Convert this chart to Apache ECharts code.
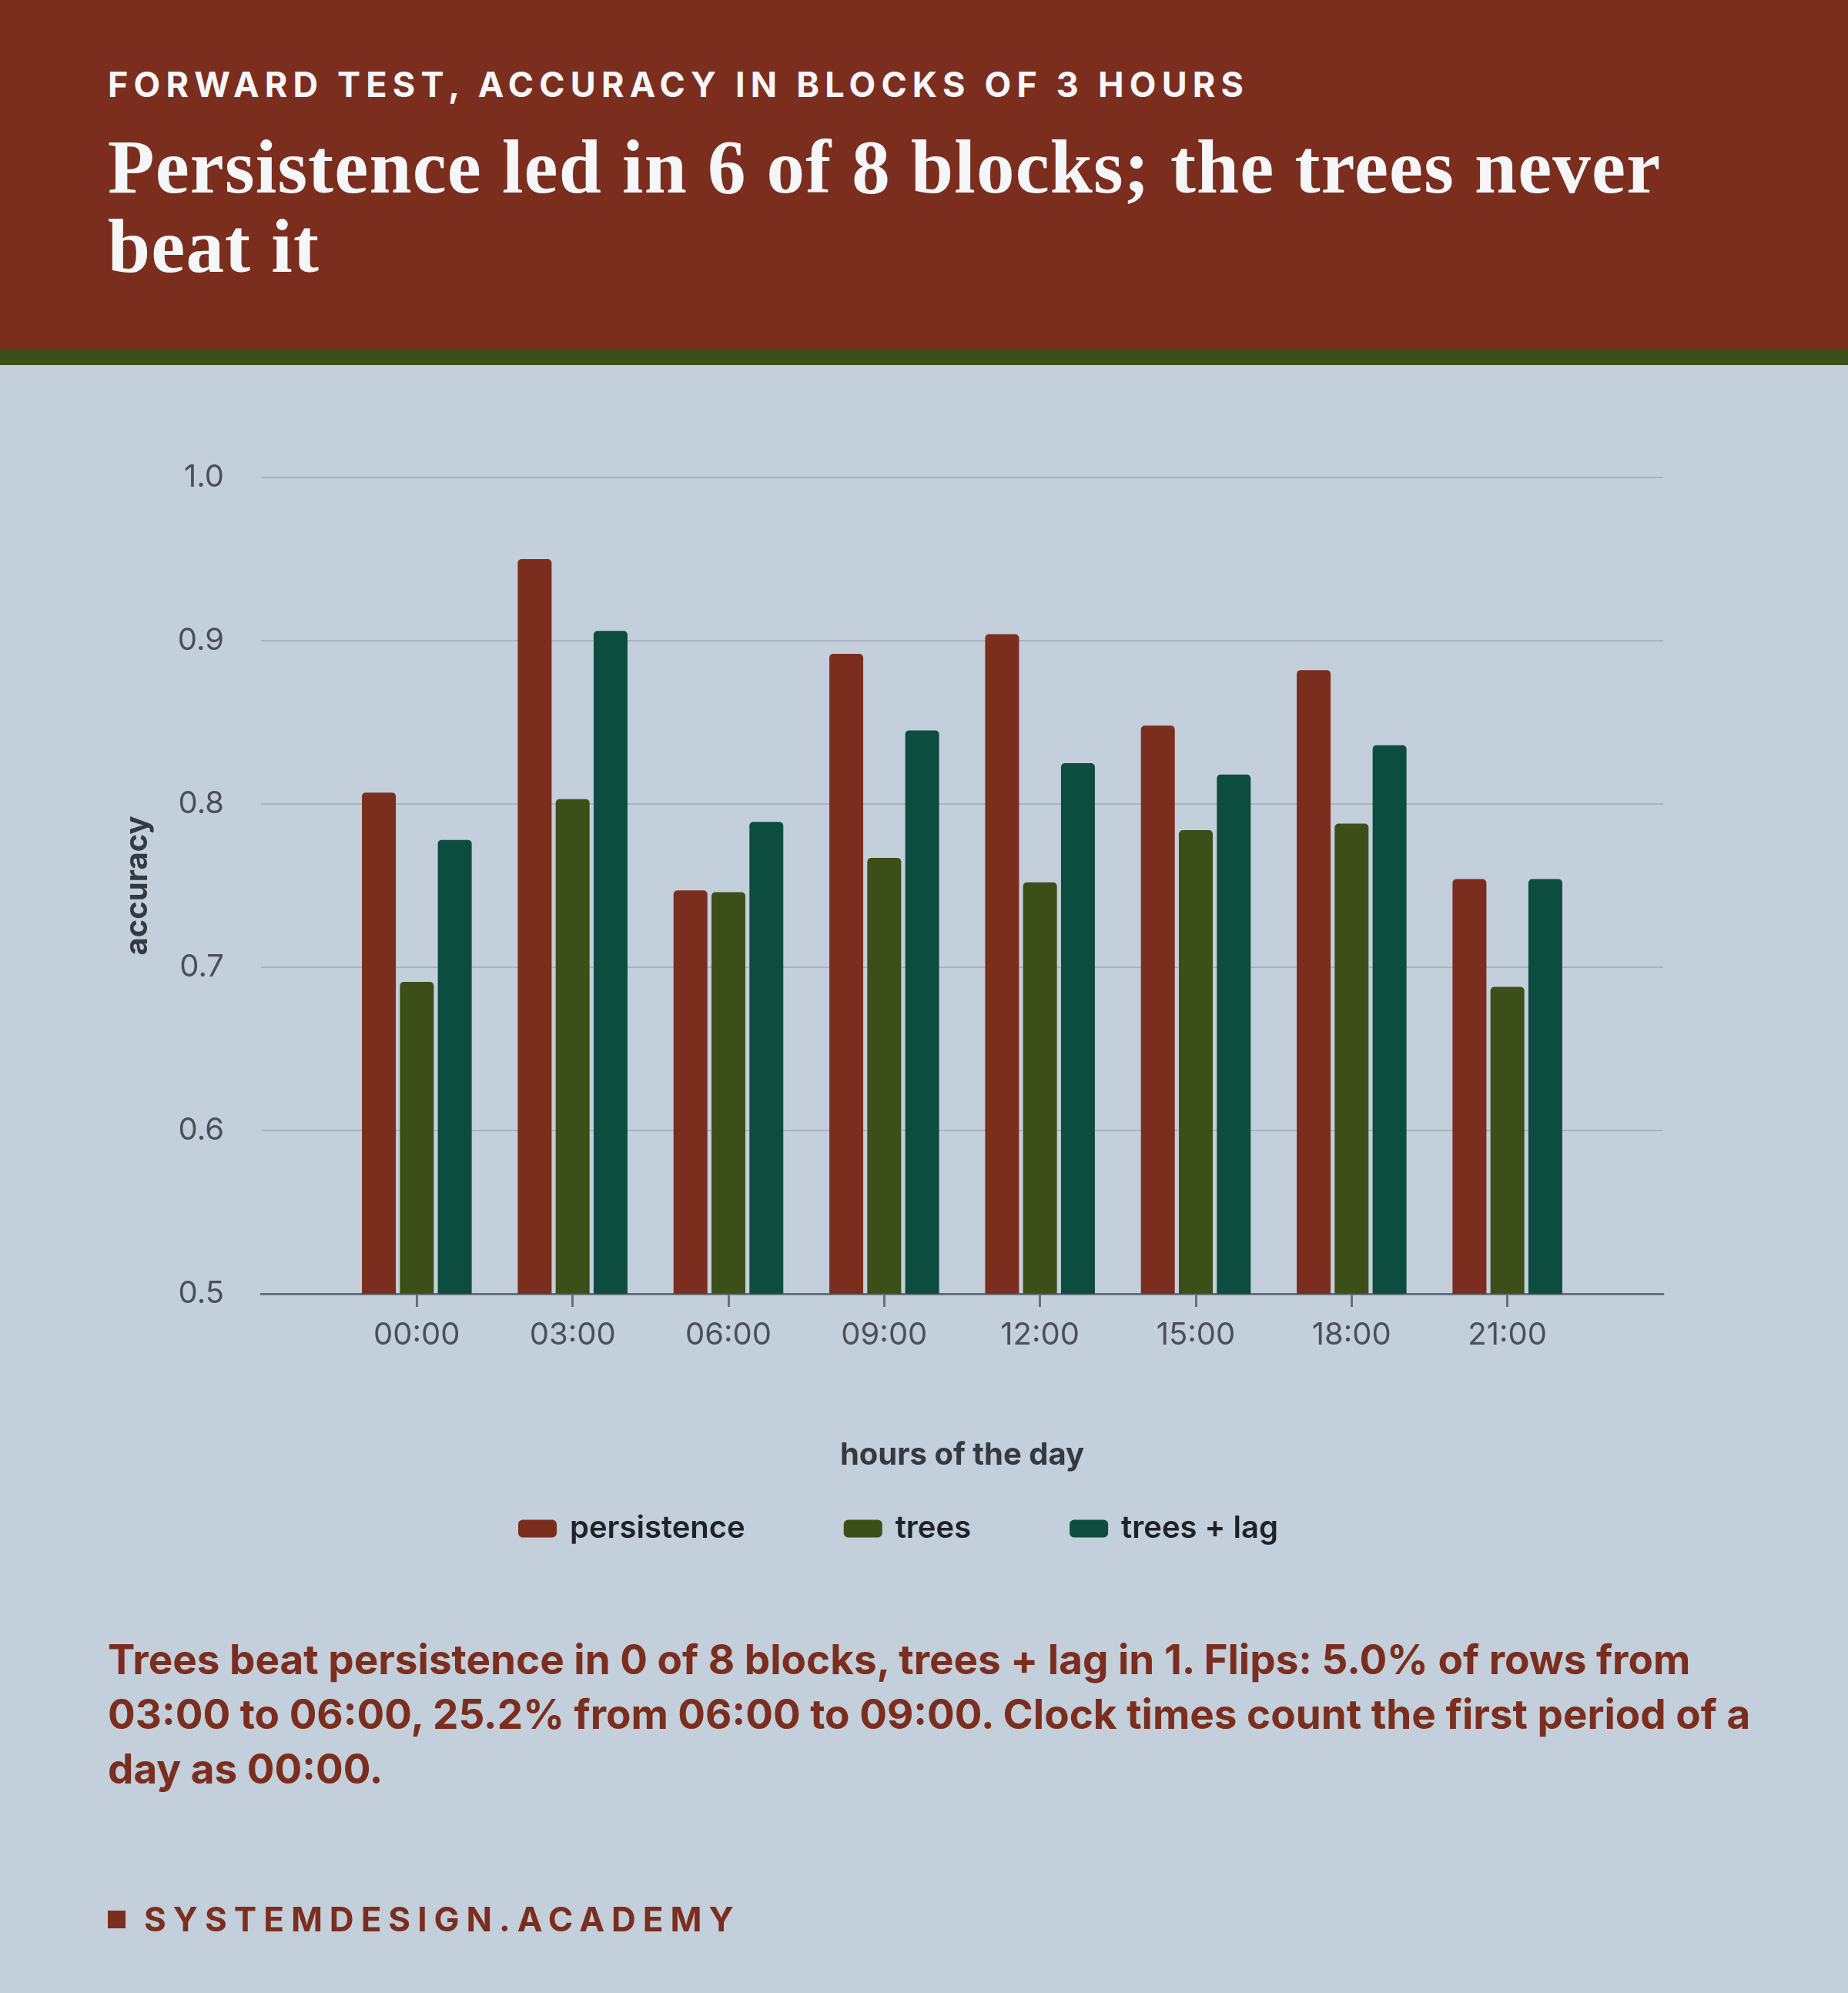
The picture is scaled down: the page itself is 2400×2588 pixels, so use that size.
<!DOCTYPE html>
<html>
<head>
<meta charset="utf-8">
<script src="https://cdn.jsdelivr.net/npm/echarts@6/dist/echarts.min.js"></script>
<style>
  html, body { margin: 0; padding: 0; }
  body { width: 2400px; height: 2588px; background: #c3cfdb; position: relative; overflow: hidden; }
  #header { position: absolute; left: 0; top: 0; width: 2400px; height: 454px; background: #7b2e1e; }
  #stripe { position: absolute; left: 0; top: 454px; width: 2400px; height: 20px; background: #3d4f19; }
  #kicker { position: absolute; left: 140px; top: 87px; font: 700 45px/45px Inter, sans-serif; letter-spacing: 7.2px; color: #f4f6f8; }
  #title { position: absolute; left: 140px; top: 165px; width: 2120px; font: 700 99px/103px "Liberation Serif", serif; letter-spacing: 1.2px; color: #f4f6f8; }
  #chart { position: absolute; left: 0; top: 0; width: 2400px; height: 2588px; }
  #note { position: absolute; left: 140px; top: 2120px; width: 2160px; font: 700 53px/71px Inter, sans-serif; color: #7b2e1e; }
  #brand { position: absolute; left: 140px; top: 2470px; font: 700 44px/44px Inter, sans-serif; letter-spacing: 9px; color: #7b2e1e; }
  #brand span { display: inline-block; width: 23px; height: 23px; background: #7b2e1e; margin-right: 24px; vertical-align: 4px; }
</style>
</head>
<body>
<div id="chart"></div>
<div id="header"></div>
<div id="stripe"></div>
<div id="kicker">FORWARD TEST, ACCURACY IN BLOCKS OF 3 HOURS</div>
<div id="title">Persistence led in 6 of 8 blocks; the trees never beat it</div>
<div id="note">Trees beat persistence in 0 of 8 blocks, trees + lag in 1. Flips: 5.0% of rows from 03:00 to 06:00, 25.2% from 06:00 to 09:00. Clock times count the first period of a day as 00:00.</div>
<div id="brand"><span></span>SYSTEMDESIGN.ACADEMY</div>
<script>
// accuracy per 3-hour block
const hours = ['00:00', '03:00', '06:00', '09:00', '12:00', '15:00', '18:00', '21:00']
const persistence = [0.807, 0.950, 0.747, 0.892, 0.904, 0.848, 0.882, 0.754]
const trees = [0.691, 0.803, 0.746, 0.767, 0.752, 0.784, 0.788, 0.688]
const treesLag = [0.778, 0.906, 0.789, 0.845, 0.825, 0.818, 0.836, 0.754]
const yTicks = { min: 0.5, max: 1.0, interval: 0.1 }

const colors = ['#7b2e1e', '#3d4f19', '#0d4d40']
const font = 'Inter, sans-serif'

const chart = echarts.init(document.querySelector('#chart'), null, { renderer: 'canvas' })

// the axis leaves one empty slot at each end, so pad the categories
const cats = [''].concat(hours, [''])
const pad = arr => [null].concat(arr, [null])
const realSlot = i => i > 0 && i <= hours.length

function barSeries(name, data, color) {
	return {
		name: name,
		type: 'bar',
		data: pad(data),
		barWidth: 44,
		barGap: '12%',
		itemStyle: { color: color, borderRadius: [5, 5, 0, 0] }
	}
}

const option = {
	backgroundColor: '#c3cfdb',
	animation: false,
	color: colors,
	textStyle: { fontFamily: font },
	grid: { left: 339, right: 240, top: 620, bottom: 908 },
	legend: {
		left: 668,
		top: 1960,
		itemWidth: 50,
		itemHeight: 23,
		itemGap: 128,
		icon: 'roundRect',
		textStyle: { fontFamily: font, fontSize: 40, fontWeight: 600, color: '#1f2328', padding: [0, 0, 0, 12] },
		data: ['persistence', 'trees', 'trees + lag']
	},
	xAxis: {
		type: 'category',
		data: cats,
		boundaryGap: false,
		name: 'hours of the day',
		nameLocation: 'middle',
		nameGap: 190,
		nameTextStyle: { fontFamily: font, fontSize: 40, fontWeight: 700, color: '#343a41' },
		axisLine: { lineStyle: { color: '#66707a', width: 3 } },
		axisTick: { interval: realSlot, length: 17, lineStyle: { color: '#66707a', width: 3 } },
		axisLabel: { interval: realSlot, margin: 34, fontFamily: font, fontSize: 40, color: '#4a5058' }
	},
	yAxis: {
		type: 'value',
		min: yTicks.min,
		max: yTicks.max,
		interval: yTicks.interval,
		name: 'accuracy',
		nameLocation: 'middle',
		nameGap: 140,
		nameRotate: 90,
		nameTextStyle: { fontFamily: font, fontSize: 40, fontWeight: 700, color: '#343a41' },
		axisLine: { show: false },
		axisTick: { show: false },
		splitLine: { lineStyle: { color: '#a9b4bf', width: 2 } },
		axisLabel: {
			margin: 48,
			fontFamily: font,
			fontSize: 40,
			color: '#4a5058',
			formatter: v => v.toFixed(1)
		}
	},
	series: [
		barSeries('persistence', persistence, colors[0]),
		barSeries('trees', trees, colors[1]),
		barSeries('trees + lag', treesLag, colors[2])
	]
}

chart.setOption(option)
</script>
</body>
</html>
